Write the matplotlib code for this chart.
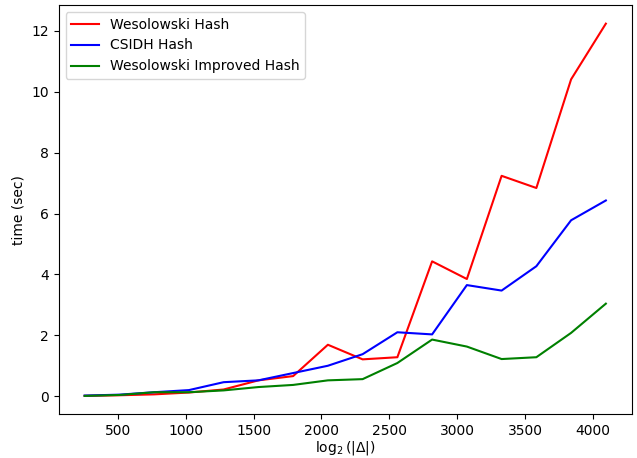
import numpy as np
import matplotlib.pyplot as plt

# discriminant sizes (bits)
sizes = [256, 512, 768, 1024, 1280, 1536, 1792, 2048, 2304, 2560,
         2816, 3072, 3328, 3584, 3840, 4096]

# timings in seconds
wesolowski = [0.01, 0.03, 0.06, 0.12, 0.22, 0.52, 0.66, 1.69, 1.21, 1.28,
              4.43, 3.85, 7.24, 6.84, 10.41, 12.24]
csidh = [0.02, 0.05, 0.13, 0.20, 0.46, 0.52, 0.76, 1.00, 1.38, 2.10,
         2.03, 3.65, 3.47, 4.27, 5.78, 6.43]
wesolowski_improved = [0.01, 0.04, 0.13, 0.13, 0.19, 0.30, 0.37, 0.52, 0.56, 1.09,
                       1.86, 1.63, 1.22, 1.28, 2.08, 3.04]

fig = plt.figure(figsize=(6.37, 4.58), dpi=100)

plt.plot(sizes, wesolowski, color='red', label='Wesolowski Hash')
plt.plot(sizes, csidh, color='blue', label='CSIDH Hash')
plt.plot(sizes, wesolowski_improved, color='green', label='Wesolowski Improved Hash')

plt.xlabel(r'$\log_2(|\Delta|)$', labelpad=0.5)
plt.ylabel('time (sec)')
plt.legend(loc='upper left')

plt.subplots_adjust(left=0.092, right=0.992, bottom=0.095, top=0.989)
fig.savefig('out.png', dpi=100)
plt.close(fig)
